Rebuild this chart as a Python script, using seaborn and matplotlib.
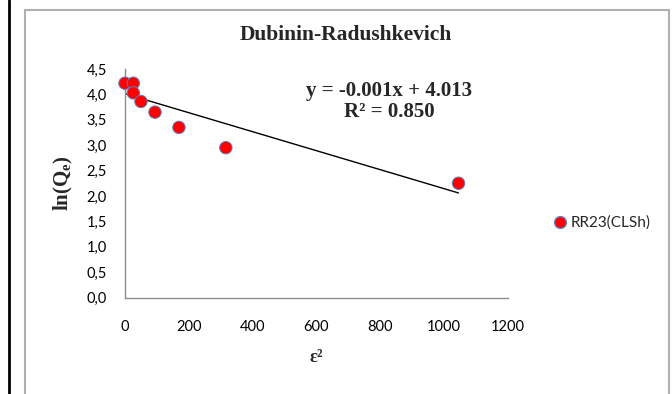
import matplotlib
matplotlib.use("Agg")
import matplotlib.pyplot as plt
import seaborn as sns
import numpy as np
import pandas as pd
from matplotlib.ticker import FuncFormatter, MultipleLocator
from matplotlib.lines import Line2D
from matplotlib.patches import Rectangle

# ---- data ----
eps2 = [0, 26, 26, 50, 94, 169, 316, 1045]
ln_qe = [4.22, 4.22, 4.03, 3.86, 3.65, 3.35, 2.95, 2.25]
series_name = "RR23(CLSh)"
trend_slope = -0.00187
trend_intercept = 4.013
title = "Dubinin-Radushkevich"
eq_text = "y = -0.001x + 4.013"
r2_text = "R² = 0.850"
x_label = "ε²"
y_label = "ln(Q$_\\mathbf{e}$)"

df = pd.DataFrame({"eps2": eps2, "lnQe": ln_qe, "series": series_name})

sns.set_theme(style="white")
plt.rcParams["font.family"] = ["Lato", "DejaVu Sans"]
plt.rcParams["mathtext.fontset"] = "custom"
plt.rcParams["mathtext.bf"] = "Liberation Serif:bold"
plt.rcParams["mathtext.rm"] = "Liberation Serif"

fig = plt.figure(figsize=(6.72, 3.94), dpi=100)
fig.patch.set_facecolor("white")
ax = fig.add_axes([125 / 672, 1 - 297.5 / 394, (508 - 125) / 672, (297.5 - 69) / 394])

# trend line
tx = np.array([min(eps2), max(eps2)])
ty = trend_intercept + trend_slope * tx
ax.plot(tx, ty, color="black", lw=1.0, zorder=2)

sns.scatterplot(data=df, x="eps2", y="lnQe", hue="series", palette=["#ff0000"],
                s=80, edgecolor="#5b7fc0", linewidth=0.7, ax=ax, zorder=3,
                legend=False, clip_on=False)

ax.set_xlim(0, 1200)
ax.set_ylim(0, 4.5)
ax.xaxis.set_major_locator(MultipleLocator(200))
ax.yaxis.set_major_locator(MultipleLocator(0.5))
ax.yaxis.set_major_formatter(FuncFormatter(lambda v, p: f"{v:.1f}".replace(".", ",")))
for s in ["top", "right"]:
    ax.spines[s].set_visible(False)
for s in ["left", "bottom"]:
    ax.spines[s].set_color("#8c8c8c")
    ax.spines[s].set_linewidth(1.0)
ax.tick_params(axis="both", which="major", direction="out", length=5, width=1,
               color="#8c8c8c", labelsize=10.5, labelcolor="black")
ax.tick_params(axis="x", pad=11)
ax.tick_params(axis="y", pad=8)

serif = ["Liberation Serif", "DejaVu Serif"]
ax.set_xlabel(x_label, family=serif, fontweight="bold", fontsize=13.5, labelpad=11)
ax.set_ylabel(y_label, family=serif, fontweight="bold", fontsize=15, labelpad=8)

fig.text(346 / 672, 1 - 35 / 394, title, family=serif, fontweight="bold",
         fontsize=15.5, ha="center", va="center")
fig.text(389 / 672, 1 - 91 / 394, eq_text, family=serif, fontweight="bold",
         fontsize=15, ha="center", va="center")
fig.text(389 / 672, 1 - 112 / 394, r2_text, family=serif, fontweight="bold",
         fontsize=15, ha="center", va="center")

# legend
handle = Line2D([0], [0], marker="o", ls="", markerfacecolor="#ff0000",
                markeredgecolor="#5b7fc0", markersize=8.5)
fig.legend([handle], [series_name], loc="center left",
           bbox_to_anchor=(543 / 672, 1 - 223 / 394), frameon=False,
           fontsize=11, handletextpad=0.1, borderpad=0, handlelength=1.2)

# chart border + left black line
fig.add_artist(Rectangle((24.5 / 672, -0.05), (669 - 24.5) / 672, 1.05 - 10 / 394,
                         transform=fig.transFigure, fill=False,
                         edgecolor="#b0b0b0", lw=1.5))
fig.add_artist(Line2D([8.5 / 672, 8.5 / 672], [0, 1], transform=fig.transFigure,
                      color="black", lw=2))

fig.savefig("out.png", dpi=100)
